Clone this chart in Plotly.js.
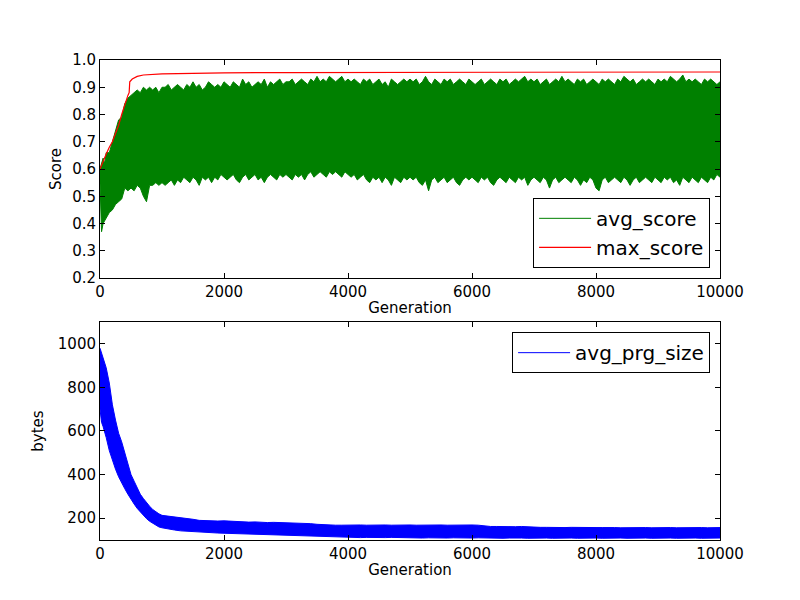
<!DOCTYPE html>
<html>
<head>
<meta charset="utf-8">
<script src="https://cdn.plot.ly/plotly-3.0.1.min.js"></script>
<style>
  body { margin: 0; padding: 0; background: #fff; }
  #chart { width: 800px; height: 600px; }
</style>
</head>
<body>
<div id="chart"></div>
<script>
let scoreGen = [
    0, 25, 50, 75, 100, 150, 200, 250, 300, 350, 400, 450, 500, 550, 600, 650, 700, 750, 800, 850, 900, 950, 1000,
    1050, 1100, 1150, 1200, 1250, 1300, 1350, 1400, 1450, 1500, 1550, 1600, 1650, 1700, 1750, 1800, 1850, 1900, 1950, 2000,
    2050, 2100, 2150, 2200, 2250, 2300, 2350, 2400, 2450, 2500, 2550, 2600, 2650, 2700, 2750, 2800, 2850, 2900, 2950, 3000,
    3050, 3100, 3150, 3200, 3250, 3300, 3350, 3400, 3450, 3500, 3550, 3600, 3650, 3700, 3750, 3800, 3850, 3900, 3950, 4000,
    4050, 4100, 4150, 4200, 4250, 4300, 4350, 4400, 4450, 4500, 4550, 4600, 4650, 4700, 4750, 4800, 4850, 4900, 4950, 5000,
    5050, 5100, 5150, 5200, 5250, 5300, 5350, 5400, 5450, 5500, 5550, 5600, 5650, 5700, 5750, 5800, 5850, 5900, 5950, 6000,
    6050, 6100, 6150, 6200, 6250, 6300, 6350, 6400, 6450, 6500, 6550, 6600, 6650, 6700, 6750, 6800, 6850, 6900, 6950, 7000,
    7050, 7100, 7150, 7200, 7250, 7300, 7350, 7400, 7450, 7500, 7550, 7600, 7650, 7700, 7750, 7800, 7850, 7900, 7950, 8000,
    8050, 8100, 8150, 8200, 8250, 8300, 8350, 8400, 8450, 8500, 8550, 8600, 8650, 8700, 8750, 8800, 8850, 8900, 8950, 9000,
    9050, 9100, 9150, 9200, 9250, 9300, 9350, 9400, 9450, 9500, 9550, 9600, 9650, 9700, 9750, 9800, 9850, 9900, 9950, 10000
];

// avg_score: top and bottom of the noisy band
let avgScoreHigh = [
    0.60, 0.62, 0.64, 0.62, 0.66, 0.66, 0.70, 0.74, 0.78, 0.79, 0.84, 0.86, 0.87, 0.88, 0.89, 0.88, 0.90, 0.89, 0.90, 0.89, 0.90, 0.88, 0.90,
    0.90, 0.91, 0.89, 0.90, 0.91, 0.90, 0.89, 0.91, 0.90, 0.92, 0.90, 0.91, 0.89, 0.90, 0.92, 0.91, 0.90, 0.91, 0.90, 0.92,
    0.91, 0.90, 0.92, 0.91, 0.90, 0.93, 0.91, 0.92, 0.90, 0.91, 0.92, 0.91, 0.93, 0.90, 0.92, 0.91, 0.92, 0.93, 0.91, 0.92,
    0.92, 0.93, 0.91, 0.92, 0.93, 0.92, 0.91, 0.93, 0.92, 0.94, 0.92, 0.93, 0.92, 0.94, 0.93, 0.92, 0.93, 0.94, 0.92, 0.93,
    0.92, 0.93, 0.92, 0.91, 0.93, 0.92, 0.93, 0.91, 0.92, 0.93, 0.91, 0.92, 0.90, 0.93, 0.92, 0.91, 0.92, 0.93, 0.92, 0.93,
    0.92, 0.93, 0.91, 0.92, 0.94, 0.92, 0.91, 0.93, 0.92, 0.91, 0.93, 0.92, 0.93, 0.91, 0.92, 0.93, 0.92, 0.91, 0.93, 0.92,
    0.91, 0.92, 0.93, 0.91, 0.92, 0.93, 0.92, 0.91, 0.93, 0.92, 0.93, 0.91, 0.92, 0.93, 0.92, 0.93, 0.94, 0.92, 0.93, 0.92,
    0.93, 0.91, 0.92, 0.93, 0.91, 0.92, 0.93, 0.92, 0.94, 0.92, 0.93, 0.92, 0.91, 0.93, 0.92, 0.93, 0.91, 0.92, 0.93, 0.92,
    0.91, 0.93, 0.92, 0.93, 0.92, 0.91, 0.93, 0.92, 0.94, 0.93, 0.92, 0.93, 0.91, 0.92, 0.93, 0.92, 0.93, 0.92, 0.91, 0.93,
    0.92, 0.93, 0.92, 0.94, 0.93, 0.92, 0.93, 0.945, 0.92, 0.93, 0.92, 0.93, 0.92, 0.91, 0.93, 0.92, 0.93, 0.92, 0.91, 0.92
];
let avgScoreLow = [
    0.55, 0.37, 0.40, 0.41, 0.42, 0.44, 0.45, 0.47, 0.48, 0.49, 0.53, 0.52, 0.53, 0.52, 0.54, 0.53, 0.50, 0.48, 0.54, 0.54, 0.55, 0.54, 0.55,
    0.54, 0.55, 0.56, 0.54, 0.56, 0.55, 0.57, 0.56, 0.55, 0.57, 0.56, 0.54, 0.57, 0.56, 0.57, 0.55, 0.57, 0.56, 0.58, 0.57,
    0.56, 0.57, 0.58, 0.56, 0.55, 0.57, 0.58, 0.56, 0.57, 0.58, 0.56, 0.57, 0.55, 0.57, 0.58, 0.57, 0.56, 0.58, 0.57, 0.58,
    0.57, 0.56, 0.58, 0.57, 0.58, 0.56, 0.58, 0.59, 0.57, 0.58, 0.59, 0.58, 0.57, 0.59, 0.58, 0.59, 0.58, 0.57, 0.59, 0.58,
    0.57, 0.58, 0.56, 0.57, 0.58, 0.56, 0.55, 0.57, 0.56, 0.57, 0.55, 0.57, 0.56, 0.54, 0.57, 0.56, 0.55, 0.57, 0.56, 0.57,
    0.56, 0.57, 0.55, 0.54, 0.56, 0.52, 0.56, 0.57, 0.55, 0.56, 0.57, 0.55, 0.56, 0.57, 0.55, 0.54, 0.56, 0.57, 0.56, 0.57,
    0.56, 0.55, 0.57, 0.56, 0.57, 0.55, 0.54, 0.56, 0.57, 0.56, 0.55, 0.57, 0.56, 0.55, 0.57, 0.56, 0.57, 0.54, 0.56, 0.57,
    0.56, 0.55, 0.57, 0.56, 0.53, 0.56, 0.57, 0.55, 0.56, 0.57, 0.56, 0.55, 0.57, 0.56, 0.54, 0.56, 0.55, 0.57, 0.56, 0.53,
    0.52, 0.56, 0.57, 0.55, 0.56, 0.57, 0.56, 0.55, 0.57, 0.56, 0.54, 0.56, 0.57, 0.55, 0.56, 0.57, 0.56, 0.55, 0.57, 0.56,
    0.55, 0.57, 0.56, 0.57, 0.55, 0.56, 0.54, 0.57, 0.56, 0.55, 0.57, 0.56, 0.55, 0.57, 0.56, 0.55, 0.57, 0.56, 0.58, 0.57
];

// max_score
let maxScoreGen = [0, 50, 100, 150, 200, 250, 300, 350, 400, 450, 470, 480, 520, 600, 700, 800, 1000, 1500, 2000, 3000, 5000, 8000, 10000];
let maxScore = [0.60, 0.63, 0.655, 0.68, 0.70, 0.73, 0.76, 0.80, 0.84, 0.87, 0.88, 0.92, 0.93, 0.940, 0.945, 0.947, 0.949, 0.951, 0.953, 0.954, 0.955, 0.956, 0.956];

// avg_prg_size: top and bottom of the blue band
let sizeGen = [
    0, 25, 50, 75, 100, 150, 200, 250, 300, 350, 400, 450, 500, 550, 600, 650, 700, 750, 800, 850, 900, 950, 1000,
    1100, 1200, 1300, 1400, 1500, 1600, 1700, 1800, 1900, 2000,
    2100, 2200, 2300, 2400, 2500, 2600, 2700, 2800, 2900, 3000,
    3100, 3200, 3300, 3400, 3500, 3600, 3700, 3800, 3900, 4000,
    4100, 4200, 4300, 4400, 4500, 4600, 4700, 4800, 4900, 5000,
    5100, 5200, 5300, 5400, 5500, 5600, 5700, 5800, 5900, 6000,
    6100, 6200, 6300, 6400, 6500, 6600, 6700, 6800, 6900, 7000,
    7100, 7200, 7300, 7400, 7500, 7600, 7700, 7800, 7900, 8000,
    8100, 8200, 8300, 8400, 8500, 8600, 8700, 8800, 8900, 9000,
    9100, 9200, 9300, 9400, 9500, 9600, 9700, 9800, 9900, 10000
];
let sizeHigh = [
    980, 960, 930, 910, 890, 820, 720, 650, 590, 550, 500, 460, 400, 370, 340, 310, 290, 270, 255, 240, 228, 220, 213,
    210, 206, 203, 198, 195, 190, 188, 189, 187, 188,
    186, 187, 183, 182, 183, 181, 180, 181, 180, 179,
    180, 178, 176, 175, 172, 170, 169, 168, 168, 169,
    168, 169, 168, 169, 170, 169, 168, 169, 168, 169,
    168, 169, 168, 168, 169, 168, 169, 168, 168, 169,
    168, 164, 162, 162, 161, 162, 161, 162, 160, 159,
    158, 158, 157, 158, 157, 158, 157, 157, 158, 157,
    157, 158, 157, 156, 157, 157, 156, 157, 156, 157,
    156, 157, 156, 157, 158, 156, 157, 156, 157, 157
];
let sizeLow = [
    700, 640, 620, 600, 570, 510, 465, 425, 390, 360, 335, 310, 285, 265, 245, 228, 212, 198, 186, 176, 167, 160, 156,
    150, 146, 142, 140, 137, 135, 134, 133, 132, 131,
    130, 129, 128, 127, 126, 125, 124, 124, 123, 122,
    121, 120, 119, 118, 116, 115, 114, 113, 112, 112,
    112, 111, 112, 111, 112, 111, 112, 111, 110, 111,
    110, 109, 110, 109, 110, 109, 110, 109, 110, 109,
    110, 109, 110, 109, 108, 109, 110, 109, 108, 109,
    110, 109, 108, 109, 110, 109, 108, 109, 110, 109,
    108, 109, 110, 109, 108, 109, 110, 109, 108, 109,
    110, 109, 108, 109, 110, 109, 108, 109, 110, 109
];

let xTicks = [0, 2000, 4000, 6000, 8000, 10000];
let scoreTicks = [0.2, 0.3, 0.4, 0.5, 0.6, 0.7, 0.8, 0.9, 1.0];
let sizeTicks = [200, 400, 600, 800, 1000];

let font = { family: 'DejaVu Sans, sans-serif', size: 15, color: '#000' };
let legendFont = { family: 'DejaVu Sans, sans-serif', size: 20, color: '#000' };

let axisStyle = function () {
    return {
        showline: true,
        linecolor: '#000',
        linewidth: 1,
        mirror: 'allticks',
        ticks: 'inside',
        ticklen: 5,
        tickcolor: '#000',
        showgrid: false,
        zeroline: false,
        tickfont: font
    };
};

let makeChart = function () {
    let avgLowTrace = {
        x: scoreGen, y: avgScoreLow,
        name: 'avg_score', type: 'scatter', mode: 'lines',
        line: { color: '#008000', width: 1 },
        xaxis: 'x', yaxis: 'y', legend: 'legend'
    };
    let avgHighTrace = {
        x: scoreGen, y: avgScoreHigh,
        name: 'avg_score', type: 'scatter', mode: 'lines',
        fill: 'tonexty', fillcolor: '#008000',
        line: { color: '#008000', width: 1 },
        showlegend: false,
        xaxis: 'x', yaxis: 'y'
    };
    let maxTrace = {
        x: maxScoreGen, y: maxScore,
        name: 'max_score', type: 'scatter', mode: 'lines',
        line: { color: '#ff0000', width: 1.2 },
        xaxis: 'x', yaxis: 'y', legend: 'legend'
    };
    let sizeLowTrace = {
        x: sizeGen, y: sizeLow,
        name: 'avg_prg_size', type: 'scatter', mode: 'lines',
        line: { color: '#0000ff', width: 1 },
        xaxis: 'x2', yaxis: 'y2', legend: 'legend2'
    };
    let sizeHighTrace = {
        x: sizeGen, y: sizeHigh,
        name: 'avg_prg_size', type: 'scatter', mode: 'lines',
        fill: 'tonexty', fillcolor: '#0000ff',
        line: { color: '#0000ff', width: 1 },
        showlegend: false,
        xaxis: 'x2', yaxis: 'y2'
    };

    let layout = {
        width: 800,
        height: 600,
        margin: { l: 100, r: 80, t: 60, b: 60 },
        paper_bgcolor: '#fff',
        plot_bgcolor: '#fff',
        font: font,
        xaxis: Object.assign(axisStyle(), {
            domain: [0, 1], anchor: 'y', range: [0, 10000],
            tickvals: xTicks, tickformat: 'd',
            title: { text: 'Generation', font: font, standoff: 2 }
        }),
        yaxis: Object.assign(axisStyle(), {
            domain: [0.5458, 1], anchor: 'x', range: [0.2, 1.0],
            tickvals: scoreTicks, tickformat: '.1f',
            title: { text: 'Score', font: font, standoff: 6 }
        }),
        xaxis2: Object.assign(axisStyle(), {
            domain: [0, 1], anchor: 'y2', range: [0, 10000],
            tickvals: xTicks, tickformat: 'd',
            title: { text: 'Generation', font: font, standoff: 2 }
        }),
        yaxis2: Object.assign(axisStyle(), {
            domain: [0, 0.4542], anchor: 'x2', range: [100, 1100],
            tickvals: sizeTicks, tickformat: 'd',
            title: { text: 'bytes', font: font, standoff: 10 }
        }),
        legend: {
            x: 0.984, y: 0.567, xanchor: 'right', yanchor: 'bottom',
            bgcolor: '#fff', bordercolor: '#000', borderwidth: 1,
            font: legendFont, itemwidth: 52,
            traceorder: 'normal'
        },
        legend2: {
            x: 0.984, y: 0.433, xanchor: 'right', yanchor: 'top',
            bgcolor: '#fff', bordercolor: '#000', borderwidth: 1,
            font: legendFont, itemwidth: 52,
            traceorder: 'normal'
        },
        showlegend: true
    };

    Plotly.newPlot('chart', [avgLowTrace, avgHighTrace, maxTrace, sizeLowTrace, sizeHighTrace], layout, { displayModeBar: false });
};

makeChart();
</script>
</body>
</html>
